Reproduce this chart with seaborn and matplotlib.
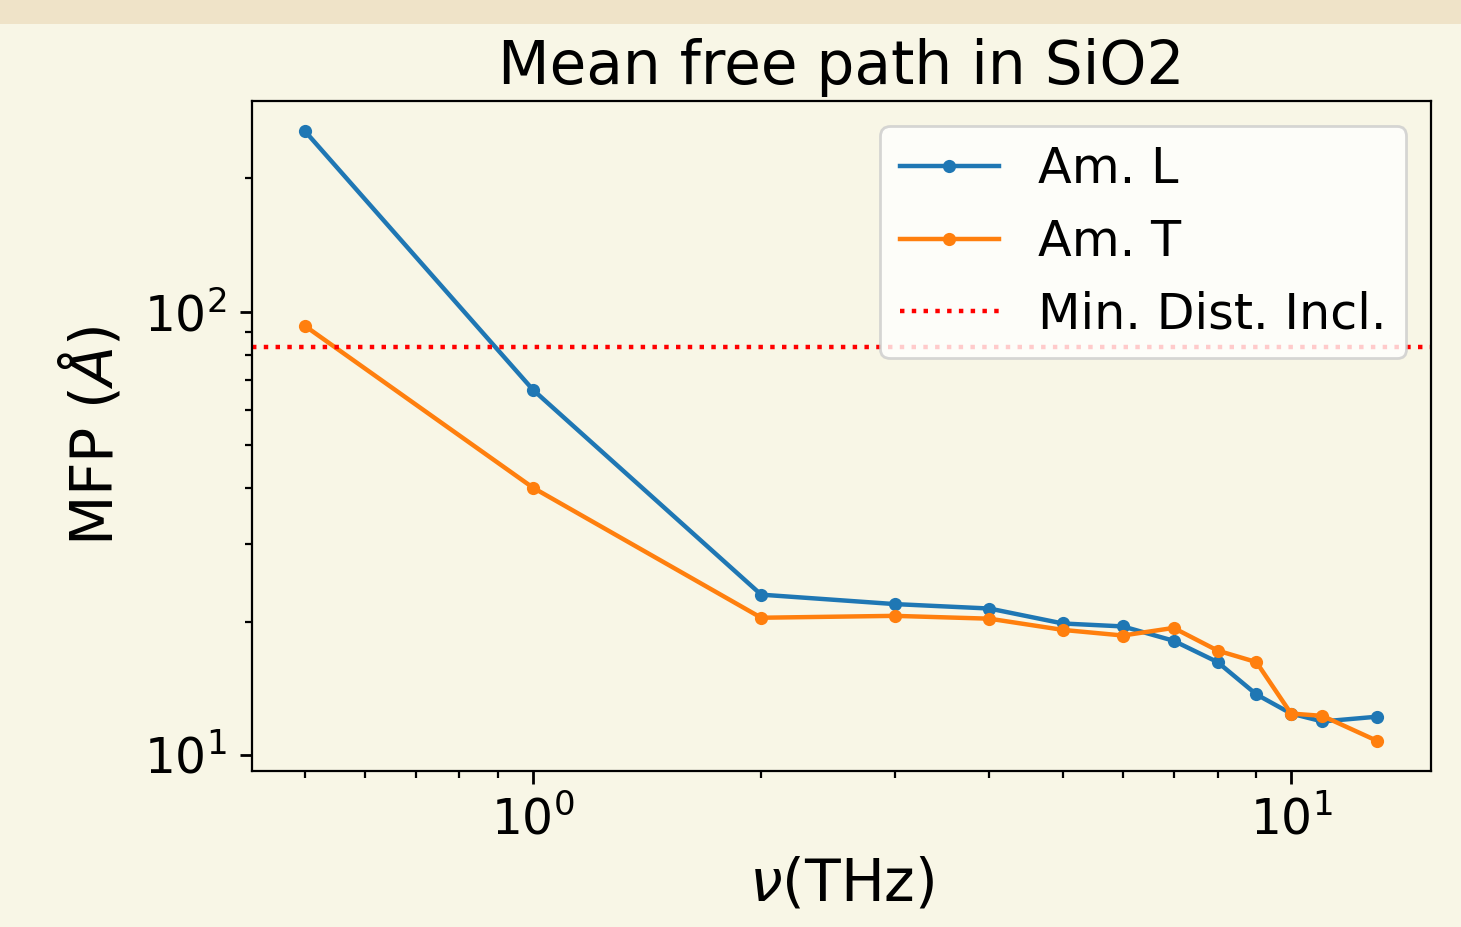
import pandas as pd
import matplotlib
matplotlib.use("Agg")
import matplotlib.pyplot as plt
import seaborn as sns

# Data
freq = [0.5, 1, 2, 3, 4, 5, 6, 7, 8, 9, 10, 11, 13]
mfp_long = [256, 66.7, 23.0, 21.9, 21.4, 19.8, 19.5, 18.1, 16.2, 13.7, 12.4, 11.9, 12.2]
mfp_trans = [93.0, 40.1, 20.4, 20.6, 20.3, 19.15, 18.6, 19.35, 17.2, 16.2, 12.4, 12.25, 10.75]
min_dist = 83.4

bg = "#f8f6e6"

data = pd.DataFrame({"freq": freq, "L": mfp_long, "T": mfp_trans})

fig = plt.figure(figsize=(7.305, 4.635), dpi=200, facecolor=bg)
# top band
fig.patches.append(plt.Rectangle((0, 1 - 24 / 927), 1, 24 / 927, transform=fig.transFigure,
                                 facecolor="#efe3c8", edgecolor="none", zorder=0))
ax = fig.add_axes([0.1725, 0.1683, 0.807, 0.7227])
ax.set_facecolor(bg)

sns.lineplot(x="freq", y="L", data=data, marker=".", markersize=9.5, markeredgewidth=0,
             color="#1f77b4", linewidth=1.6, label="Am. L", ax=ax)
sns.lineplot(x="freq", y="T", data=data, marker=".", markersize=9.5, markeredgewidth=0,
             color="#ff7f0e", linewidth=1.6, label="Am. T", ax=ax)
ax.axhline(min_dist, color="red", linestyle=":", linewidth=1.6, label="Min. Dist. Incl.")

ax.set_xscale("log")
ax.set_yscale("log")
ax.set_xlim(0.426, 15.3)
ax.set_ylim(9.2, 299)

ax.set_title("Mean free path in SiO2", fontsize=21.5)
ax.set_xlabel(r"$\nu$(THz)", fontsize=21)
ax.set_ylabel(r"MFP ($\AA$)", fontsize=21, labelpad=7)
ax.tick_params(which="major", labelsize=17.5, pad=4.5, length=4.5, width=1)
ax.tick_params(which="minor", length=2.5, width=0.8)
ax.legend(loc="upper right", fontsize=17.75)

fig.savefig("out.png", dpi=200, facecolor=bg)
